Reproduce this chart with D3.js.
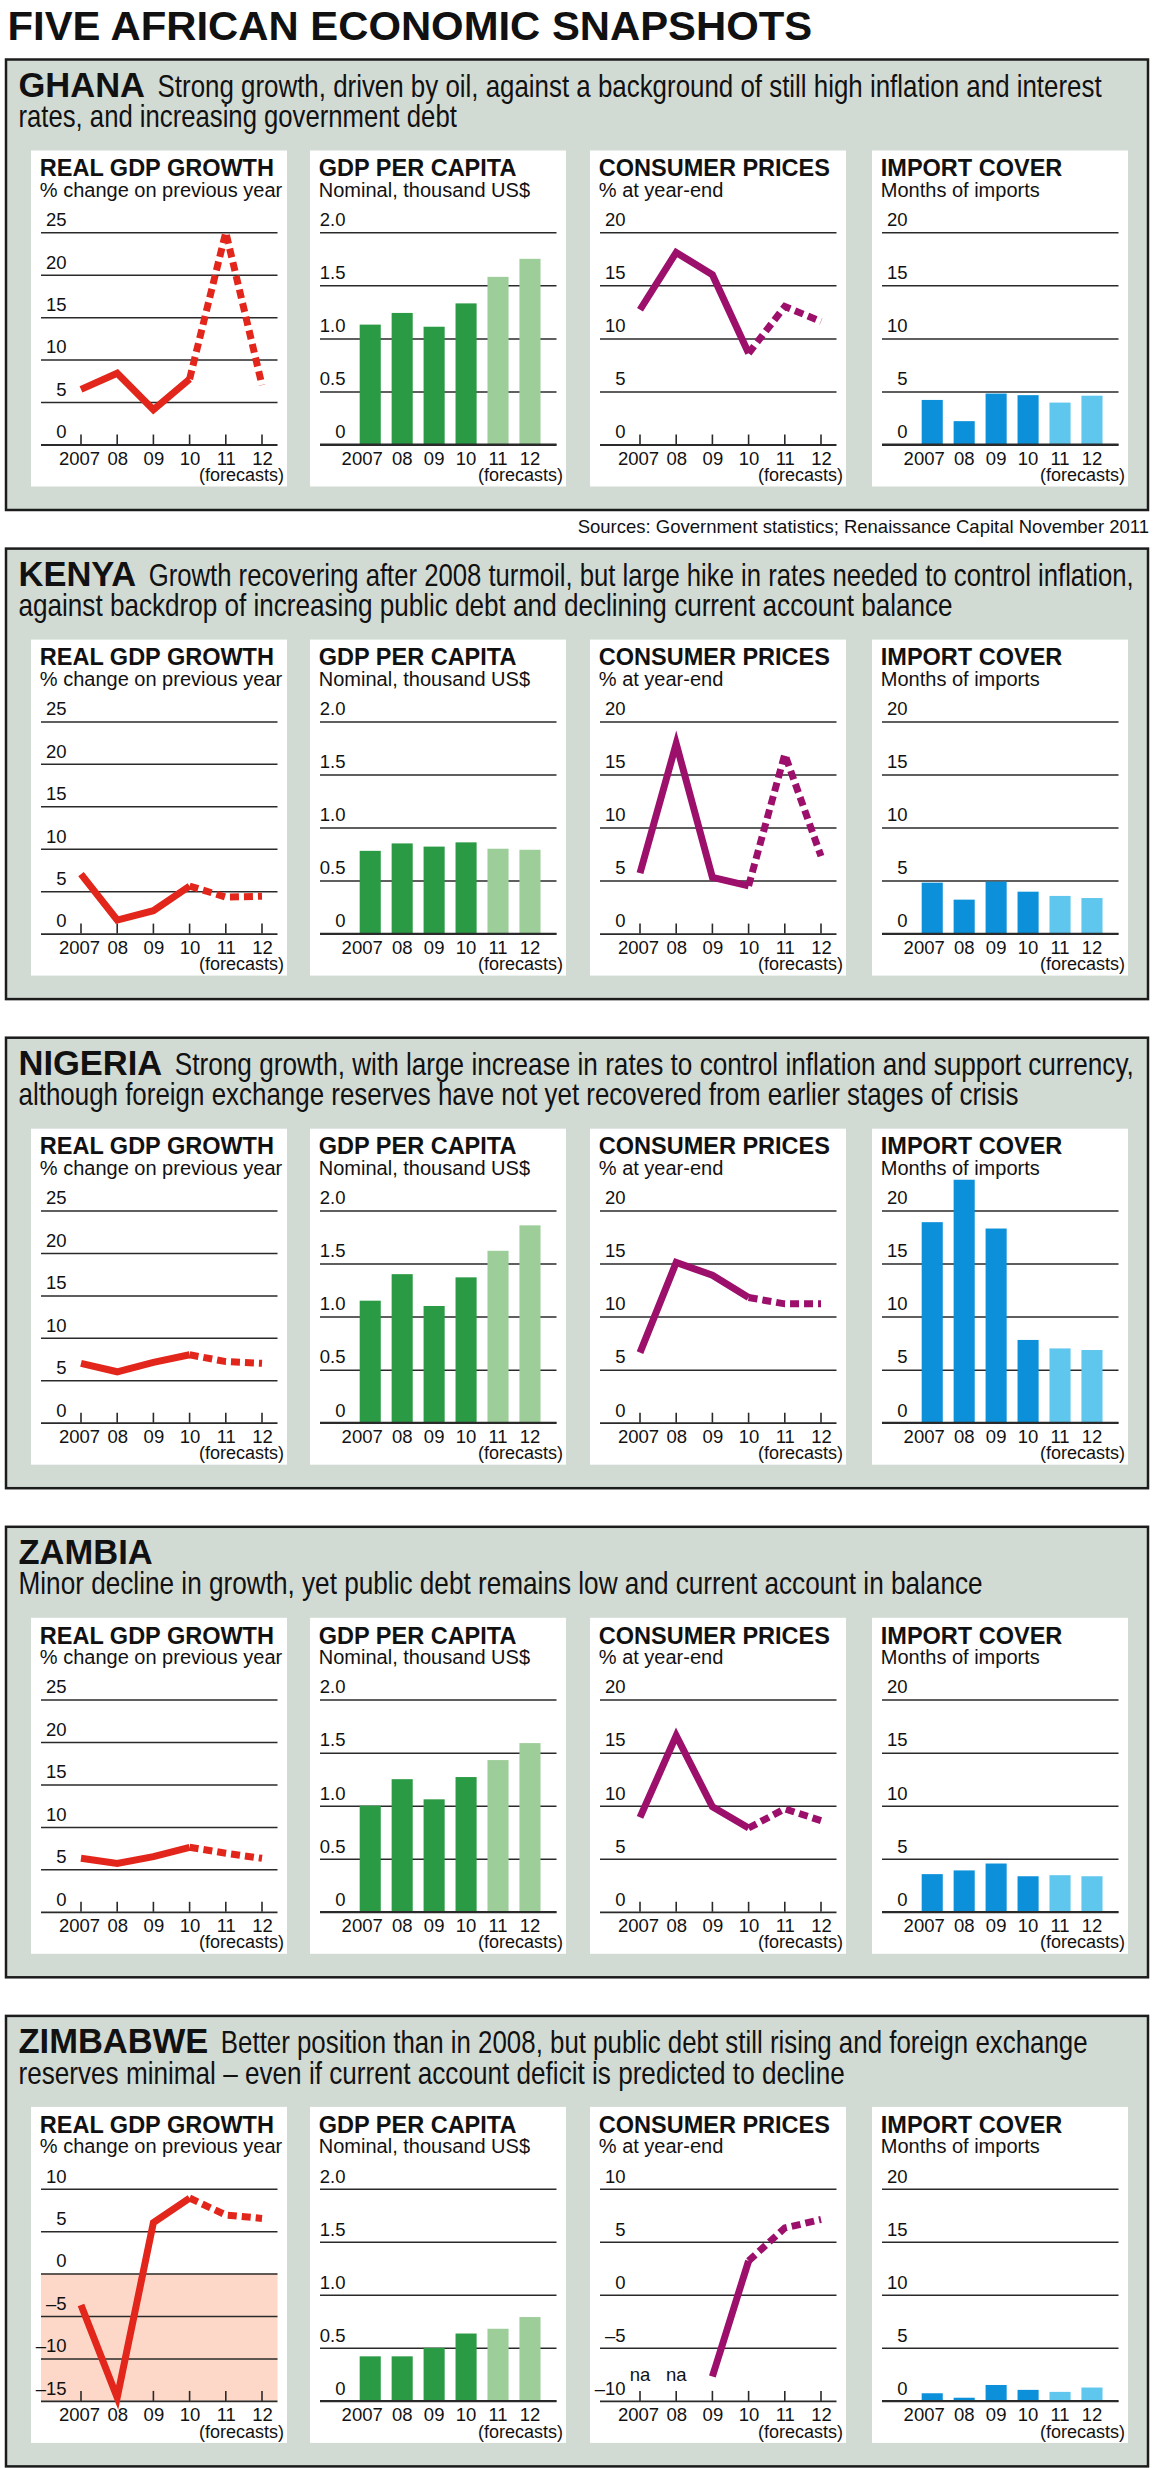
<!DOCTYPE html>
<html><head><meta charset="utf-8">
<script src="https://cdn.jsdelivr.net/npm/d3@7"></script>
<style>
body{margin:0;background:#fff;}
svg{display:block;}
</style></head><body>
<svg id="chart" width="1153" height="2468"></svg>
<script>
// ---------------- DATA ----------------
const years = ["2007","08","09","10","11","12"];
const forecastStart = 4; // "11" and "12" are forecasts
const countries = ["GHANA","KENYA","NIGERIA","ZAMBIA","ZIMBABWE"];
const descLines = [
  ["Strong growth, driven by oil, against a background of still high inflation and interest", "rates, and increasing government debt"],
  ["Growth recovering after 2008 turmoil, but large hike in rates needed to control inflation,", "against backdrop of increasing public debt and declining current account balance"],
  ["Strong growth, with large increase in rates to control inflation and support currency,", "although foreign exchange reserves have not yet recovered from earlier stages of crisis"],
  ["", "Minor decline in growth, yet public debt remains low and current account in balance"],
  ["Better position than in 2008, but public debt still rising and foreign exchange", "reserves minimal \u2013 even if current account deficit is predicted to decline"]
];
const panelTitles = ["REAL GDP GROWTH","GDP PER CAPITA","CONSUMER PRICES","IMPORT COVER"];
const panelSubtitles = ["% change on previous year","Nominal, thousand US$","% at year-end","Months of imports"];

const realGdpGrowth = [
  [6.5, 8.4, 4.1, 7.7, 25.0, 7.0],
  [7.0, 1.6, 2.7, 5.6, 4.3, 4.4],
  [7.0, 6.0, 7.1, 8.0, 7.2, 7.0],
  [6.3, 5.7, 6.5, 7.6, 6.9, 6.3],
  [-3.7, -14.6, 6.0, 8.9, 6.9, 6.5]
];
const gdpPerCapita = [
  [1.13, 1.24, 1.11, 1.33, 1.58, 1.75],
  [0.78, 0.85, 0.82, 0.86, 0.80, 0.79],
  [1.15, 1.40, 1.10, 1.37, 1.62, 1.86],
  [1.00, 1.25, 1.06, 1.27, 1.43, 1.59],
  [0.42, 0.42, 0.50, 0.635, 0.68, 0.79]
];
const consumerPrices = [
  [12.7, 18.1, 16.0, 8.6, 13.0, 11.6],
  [5.7, 17.9, 5.3, 4.5, 16.9, 7.3],
  [6.6, 15.1, 13.9, 11.8, 11.2, 11.2],
  [8.9, 16.6, 9.9, 7.9, 9.7, 8.6],
  [null, null, -7.7, 3.2, 6.3, 7.1]
];
const importCover = [
  [4.2, 2.2, 4.8, 4.65, 3.95, 4.6],
  [4.8, 3.2, 4.9, 3.95, 3.55, 3.35],
  [18.9, 22.9, 18.3, 7.8, 7.0, 6.85],
  [3.55, 3.9, 4.55, 3.35, 3.45, 3.35],
  [0.72, 0.3, 1.5, 1.04, 0.85, 1.26]
];
const growthTicks = [0, 5, 10, 15, 20, 25];
const growthTicksZimbabwe = [-15, -10, -5, 0, 5, 10];
const perCapitaTicks = [0, 0.5, 1.0, 1.5, 2.0];
const priceTicks = [0, 5, 10, 15, 20];
const priceTicksZimbabwe = [-10, -5, 0, 5, 10];
const importTicks = [0, 5, 10, 15, 20];
const naLabel = "na";
const forecastLabel = "(forecasts)";
const mainTitle = "FIVE AFRICAN ECONOMIC SNAPSHOTS";
const sourcesText = "Sources: Government statistics; Renaissance Capital November 2011";

// ---------------- STYLE / LAYOUT ----------------
const SANS = "'Liberation Sans', Arial, Helvetica, sans-serif";
const C = {
  boxFill: "#d1dbd4", boxStroke: "#1c1c1c", grid: "#2a2a2a", text: "#111",
  red: "#e2261b", magenta: "#9c0f6b",
  green: "#2b9a44", greenLight: "#9dcd98",
  blue: "#0b90d9", blueLight: "#5fc6ee",
  negShade: "#fdd8c8"
};
const BOX = { x: 6, w: 1142, h: 450.5, top0: 59.5, step: 489.1 };
// right ends of the two description lines in each box (text layout)
const descRight = [[1102, 457], [1134, 953], [1134, 1019], [null, 983], [1088, 845]];
const panelLefts = [31, 310, 590, 872];
const P = { w: 256, h: 336, top: 91, gridL: 10, gridR: 246.5, gridTop: 81.8, gridBottom: 294,
            titleY: 25.8, subY: 46.5, xLabelY: 314, forecastY: 330.7, tickRight: 35.5,
            lineX0: 50, lineX1: 231, barL: 49.7, barR: 230.5 };

const svg = d3.select("#chart");
svg.append("rect").attr("width", 1153).attr("height", 2468).attr("fill", "#fff");

// condensed text: draw at a size, then squeeze horizontally to a target width
function squeezedText(parent, str, x0, xRight, y, size, bold) {
  const t = parent.append("text").attr("x", 0).attr("y", 0).attr("fill", C.text)
    .attr("font-family", SANS).attr("font-size", size).attr("font-weight", bold ? "bold" : null).text(str);
  const w = t.node().getComputedTextLength();
  const sx = (xRight - x0) / w;
  t.attr("transform", `translate(${x0},${y}) scale(${sx},1)`);
  return t;
}

squeezedText(svg, mainTitle, 7.5, 812.5, 40, 40.5, true);

function fmtTick(v, decimals) {
  if (v < 0) return "\u2013" + Math.abs(v);
  if (v === 0) return "0";
  return decimals ? v.toFixed(1) : String(v);
}

function drawPanel(g, kind, ci) {
  g.append("rect").attr("width", P.w).attr("height", P.h).attr("fill", "#fff");
  g.append("text").attr("x", 8.8).attr("y", P.titleY).attr("font-family", SANS)
    .attr("font-weight", "bold").attr("font-size", 23.5).attr("fill", C.text).text(panelTitles[kind]);
  g.append("text").attr("x", 8.8).attr("y", P.subY).attr("font-family", SANS)
    .attr("font-size", 20).attr("fill", C.text).text(panelSubtitles[kind]);

  const zim = countries[ci] === "ZIMBABWE";
  let ticks, values, isBar, colors;
  if (kind === 0) { ticks = zim ? growthTicksZimbabwe : growthTicks; values = realGdpGrowth[ci]; isBar = false; colors = C.red; }
  if (kind === 1) { ticks = perCapitaTicks; values = gdpPerCapita[ci]; isBar = true; colors = [C.green, C.greenLight]; }
  if (kind === 2) { ticks = zim ? priceTicksZimbabwe : priceTicks; values = consumerPrices[ci]; isBar = false; colors = C.magenta; }
  if (kind === 3) { ticks = importTicks; values = importCover[ci]; isBar = true; colors = [C.blue, C.blueLight]; }

  const y = d3.scaleLinear().domain(d3.extent(ticks)).range([P.gridBottom, P.gridTop]);
  const yMin = d3.min(ticks);

  if (!isBar && yMin < 0 && kind === 0) {
    g.append("rect").attr("x", P.gridL).attr("y", y(0)).attr("width", P.gridR - P.gridL)
      .attr("height", y(yMin) - y(0)).attr("fill", C.negShade);
  }

  const yAxis = d3.axisLeft(y).tickValues(ticks).tickSize(0).tickFormat(d => fmtTick(d, kind === 1));
  const ag = g.append("g").call(yAxis);
  ag.select(".domain").remove();
  ag.selectAll(".tick text").attr("x", P.tickRight).attr("dy", null).attr("y", -6.7)
    .attr("text-anchor", "end").attr("font-family", SANS).attr("font-size", 18.5).attr("fill", C.text);
  ag.selectAll(".tick").append("line").attr("x1", P.gridL).attr("x2", P.gridR)
    .attr("stroke", C.grid).attr("stroke-width", d => d === yMin ? 1.8 : 1.5);

  if (isBar) {
    const x = d3.scaleBand().domain(years)
      .range([P.barL - 5.45, P.barR + 5.45]).paddingInner(0.34).paddingOuter(0.17);
    g.selectAll("rect.bar").data(values).enter().append("rect").attr("class", "bar")
      .attr("x", (d, i) => x(years[i])).attr("width", x.bandwidth())
      .attr("y", d => y(d)).attr("height", d => y(0) - y(d))
      .attr("fill", (d, i) => i >= forecastStart ? colors[1] : colors[0]);
    g.append("line").attr("x1", P.gridL).attr("x2", P.gridR).attr("y1", y(0)).attr("y2", y(0))
      .attr("stroke", C.grid).attr("stroke-width", 1.8);
    const xAxis = d3.axisBottom(x).tickSize(0);
    const xg = g.append("g").attr("transform", `translate(0,${P.xLabelY})`).call(xAxis);
    xg.select(".domain").remove();
    xg.selectAll(".tick text").attr("y", 0).attr("dy", null)
      .attr("font-family", SANS).attr("font-size", 18.5).attr("fill", C.text)
      .attr("text-anchor", (d, i) => i === 0 ? "end" : "middle")
      .attr("x", (d, i) => i === 0 ? x.bandwidth() / 2 + 2 : 0);
  } else {
    const x = d3.scalePoint().domain(years).range([P.lineX0, P.lineX1]);
    g.selectAll("line.xt").data(years).enter().append("line").attr("class", "xt")
      .attr("x1", d => x(d)).attr("x2", d => x(d)).attr("y1", y(yMin)).attr("y2", y(yMin) - 10)
      .attr("stroke", C.grid).attr("stroke-width", 1.6);
    const xAxis = d3.axisBottom(x).tickSize(0);
    const xg = g.append("g").attr("transform", `translate(0,${P.xLabelY})`).call(xAxis);
    xg.select(".domain").remove();
    xg.selectAll(".tick text").attr("y", 0).attr("dy", null)
      .attr("font-family", SANS).attr("font-size", 18.5).attr("fill", C.text)
      .attr("x", (d, i) => i === 0 ? -2 : 0);

    const pts = values.map((v, i) => ({ k: years[i], v, i }));
    const line = d3.line().defined(d => d.v != null).x(d => x(d.k)).y(d => y(d.v));
    const solid = pts.filter(d => d.i <= forecastStart - 1);
    const dashed = pts.filter(d => d.i >= forecastStart - 1);
    g.append("path").attr("d", line(solid)).attr("fill", "none").attr("stroke", colors)
      .attr("stroke-width", 7).attr("stroke-linejoin", "miter").attr("stroke-miterlimit", 6);
    g.append("path").attr("d", line(dashed)).attr("fill", "none").attr("stroke", colors)
      .attr("stroke-width", 7).attr("stroke-dasharray", "9,5").attr("stroke-linejoin", "miter").attr("stroke-miterlimit", 6);
    pts.filter(d => d.v == null).forEach(d => {
      g.append("text").attr("x", x(d.k)).attr("y", y(yMin) - 20).attr("text-anchor", "middle")
        .attr("font-family", SANS).attr("font-size", 18.5).attr("fill", C.text).text(naLabel);
    });
  }
  g.append("text").attr("x", P.w - 3).attr("y", P.forecastY).attr("text-anchor", "end")
    .attr("font-family", SANS).attr("font-size", 18).attr("fill", C.text).text(forecastLabel);
}

countries.forEach((name, ci) => {
  const top = BOX.top0 + ci * BOX.step;
  const box = svg.append("g").attr("transform", `translate(0,${top})`);
  box.append("rect").attr("x", BOX.x).attr("y", 0).attr("width", BOX.w).attr("height", BOX.h)
    .attr("fill", C.boxFill).attr("stroke", C.boxStroke).attr("stroke-width", 2.5);
  const head = box.append("text").attr("x", 18.5).attr("y", 37.2).attr("fill", C.text)
    .attr("font-family", SANS).attr("font-weight", "bold").attr("font-size", 34.5).text(name);
  const nameW = head.node().getComputedTextLength();
  if (descLines[ci][0]) {
    const x0 = 18.5 + nameW + 12.6;
    squeezedText(box, descLines[ci][0], x0, descRight[ci][0], 37.2, 30.5, false);
  }
  squeezedText(box, descLines[ci][1], 18.5, descRight[ci][1], 67.6, 30.5, false);

  panelLefts.forEach((px, k) => {
    const g = box.append("g").attr("transform", `translate(${px},${P.top})`);
    drawPanel(g, k, ci);
  });
});

svg.append("text").attr("x", 1149).attr("y", 533).attr("text-anchor", "end")
  .attr("font-family", SANS).attr("font-size", 18.5).attr("fill", C.text).text(sourcesText);
</script>
</body></html>
